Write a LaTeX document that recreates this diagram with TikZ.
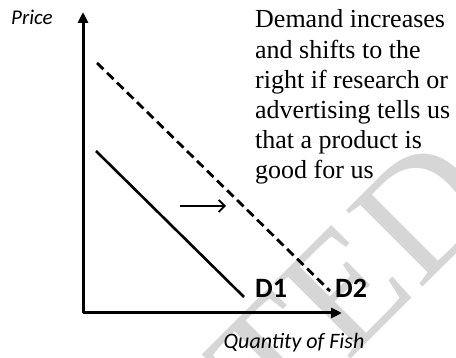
\documentclass[tikz,border=0pt]{standalone}
\usepackage{fontspec}
\setmainfont{Liberation Serif}
\newfontfamily\calibrifont{Carlito}
\usetikzlibrary{arrows.meta}
\begin{document}
\begin{tikzpicture}[x=1pt,y=-1pt,
  axis/.style={line width=3pt,-{Triangle[length=11pt,width=10pt]}},
  demand/.style={line width=2.6pt},
  shifted/.style={line width=2.8pt,dash pattern=on 9pt off 5pt},
  shiftarrow/.style={line width=1.8pt,-{Straight Barb[length=6pt,width=12pt]}},
  lab/.style={font=\calibrifont\bfseries\fontsize{28}{28}\selectfont,inner sep=0pt,anchor=base west},
  axlab/.style={font=\calibrifont\itshape\fontsize{22}{22}\selectfont,inner sep=0pt},
  note/.style={font=\fontsize{26}{30}\selectfont,inner sep=0pt,anchor=base west},
  wm/.style={font=\fontsize{165}{165}\selectfont,text=black!16,inner sep=0pt}
]
\useasboundingbox (0,0) rectangle (456,358);
% watermark
\node[wm,rotate=45] (wmark) at (352,282) {TED};
% axes
\coordinate (O) at (83,313);
\coordinate (ytip) at (83,12);
\coordinate (xtip) at (342,313);
\draw[axis] (O) -- (ytip);
\draw[axis] (O) -- (xtip);
% demand curves
\coordinate (d1a) at (96,151);
\coordinate (d1b) at (244,297);
\coordinate (d2a) at (97,63);
\coordinate (d2b) at (330,291);
\draw[demand] (d1a) -- (d1b);
\draw[shifted] (d2a) -- (d2b);
% shift arrow
\coordinate (sa) at (180,206);
\coordinate (sb) at (226,206);
\draw[shiftarrow] (sa) -- (sb);
% labels
\node[lab] (D1) at (255,298) {D1};
\node[lab] (D2) at (335,298) {D2};
\node[axlab,anchor=base] (qty) at (294,349) {Quantity of Fish};
\node[axlab,anchor=base west,font=\calibrifont\itshape\fontsize{21}{21}\selectfont] (price) at (11,25) {Price};
% note
\node[note] (t1) at (255,28) {Demand increases};
\node[note] (t2) at (255,58.2) {and shifts to the};
\node[note] (t3) at (255,88.4) {right if research or};
\node[note] (t4) at (255,118.6) {advertising tells us};
\node[note] (t5) at (255,148.8) {that a product is};
\node[note] (t6) at (255,179) {good for us};
\end{tikzpicture}
\end{document}
